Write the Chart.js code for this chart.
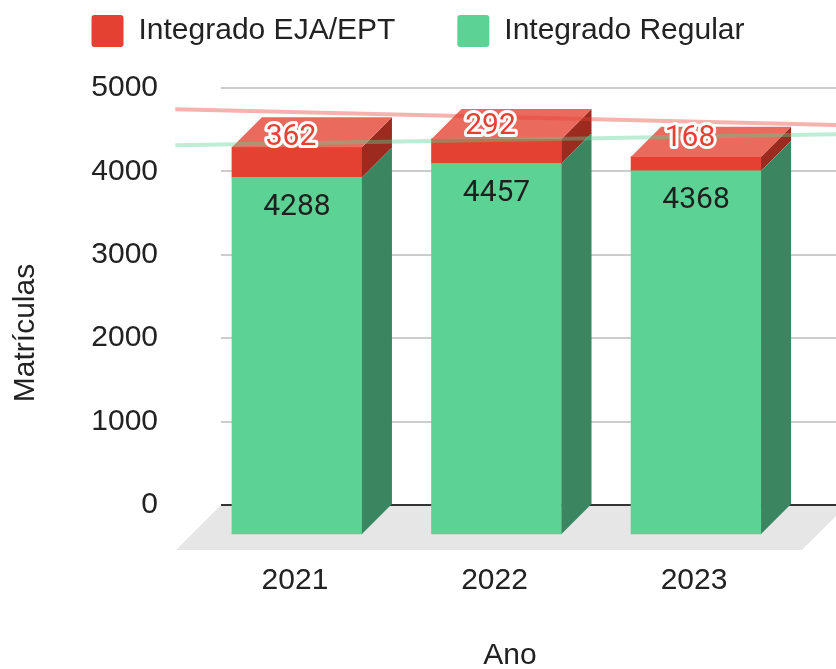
<!DOCTYPE html>
<html>
<head>
<meta charset="utf-8">
<script src="https://cdn.jsdelivr.net/npm/chart.js@4"></script>
<style>
  html, body { margin: 0; padding: 0; background: #fff; overflow: hidden; }
  #wrap { width: 836px; height: 669px; }
</style>
</head>
<body>
<div id="wrap"><canvas id="matriculasChart"></canvas></div>
<script>
const years = ["2021", "2022", "2023"];
const regular = [4288, 4457, 4368];
const ejaEpt = [362, 292, 168];
const yTicks = [0, 1000, 2000, 3000, 4000, 5000];

// trend lines, values at both ends
const trendYears = [2020.24, 2023.56];
const trendEja = [4745, 4556];
const trendRegular = [4315, 4445];

const xTitle = "Ano";
const yTitle = "Matrículas";

const DEPTH = 30; // 3d offset of the boxes
const FLOOR = 45;
const axisFont = "'Liberation Sans', Arial, sans-serif";

Chart.defaults.font.family = axisFont;
Chart.defaults.color = "#222";

function poly(ctx, pts) {
  ctx.beginPath();
  ctx.moveTo(pts[0][0], pts[0][1]);
  for (let i = 1; i < pts.length; i++) ctx.lineTo(pts[i][0], pts[i][1]);
  ctx.closePath();
  ctx.fill();
}

const box3d = {
  id: "box3d",
  beforeDraw(chart) {
    const { ctx, chartArea: a } = chart;
    ctx.save();
    ctx.fillStyle = "#e6e6e6";
    poly(ctx, [
      [a.left, a.bottom],
      [a.right + 11, a.bottom],
      [a.right + 11 - FLOOR, a.bottom + FLOOR],
      [a.left - FLOOR, a.bottom + FLOOR],
    ]);
    ctx.restore();
  },
  beforeDatasetDraw(chart, args) {
    if (args.meta.type !== "bar") return;
    chart.ctx.save();
    chart.ctx.translate(-DEPTH, DEPTH);
  },
  afterDatasetDraw(chart, args) {
    if (args.meta.type !== "bar") return;
    const ctx = chart.ctx;
    ctx.restore();
    const ds = chart.data.datasets[args.index];
    ctx.save();
    args.meta.data.forEach((bar) => {
      const { x, y, base, width } = bar.getProps(["x", "y", "base", "width"], true);
      const xl = x - width / 2;
      const xr = x + width / 2;
      ctx.fillStyle = ds.sideColor;
      poly(ctx, [[xr - DEPTH, y + DEPTH], [xr, y], [xr, base], [xr - DEPTH, base + DEPTH]]);
      if (ds.topColor) {
        ctx.fillStyle = ds.topColor;
        poly(ctx, [[xl - DEPTH, y + DEPTH], [xl, y], [xr, y], [xr - DEPTH, y + DEPTH]]);
      }
    });
    ctx.restore();
  },
  afterDatasetsDraw(chart) {
    const ctx = chart.ctx;
    ctx.save();
    ctx.font = "30px Roboto";
    ctx.textAlign = "center";
    ctx.textBaseline = "middle";
    chart.getDatasetMeta(0).data.forEach((bar, i) => {
      ctx.fillStyle = "#1f1f1f";
      ctx.fillText(String(regular[i]), bar.x - DEPTH, bar.y + DEPTH + 30);
    });
    chart.getDatasetMeta(1).data.forEach((bar, i) => {
      const cx = bar.x - DEPTH - 6;
      const cy = (bar.y + bar.base) / 2 + 5;
      ctx.lineWidth = 6;
      ctx.lineJoin = "round";
      ctx.strokeStyle = "#fff";
      ctx.strokeText(String(ejaEpt[i]), cx, cy);
      ctx.fillStyle = "#e54133";
      ctx.fillText(String(ejaEpt[i]), cx, cy);
    });
    ctx.restore();
  },
  afterDraw(chart) {
    const ctx = chart.ctx;
    ctx.save();
    ctx.font = "30px " + axisFont;
    ctx.fillStyle = "#222";
    ctx.textAlign = "center";
    ctx.textBaseline = "middle";
    ctx.fillText(xTitle, 510, 656);
    ctx.translate(26, 333);
    ctx.rotate(-Math.PI / 2);
    ctx.fillText(yTitle, 0, 0);
    ctx.restore();
  },
};

new Chart(document.getElementById("matriculasChart"), {
  type: "bar",
  data: {
    labels: years,
    datasets: [
      {
        label: "Integrado Regular",
        data: regular,
        backgroundColor: "#5cd295",
        sideColor: "#3b8660",
      },
      {
        label: "Integrado EJA/EPT",
        data: ejaEpt,
        backgroundColor: "#e54133",
        sideColor: "#9c2a1f",
        topColor: "#ea6a5d",
      },
      {
        type: "line",
        label: "Tendência EJA/EPT",
        data: trendYears.map((x, i) => ({ x: x, y: trendEja[i] })),
        borderColor: "rgba(229, 65, 51, 0.4)",
        borderWidth: 4,
        pointRadius: 0,
        stack: "trendEja",
        order: -1,
        clip: false,
      },
      {
        type: "line",
        label: "Tendência Regular",
        data: trendYears.map((x, i) => ({ x: x, y: trendRegular[i] })),
        borderColor: "rgba(92, 210, 149, 0.4)",
        borderWidth: 4,
        pointRadius: 0,
        stack: "trendRegular",
        order: -1,
        clip: false,
      },
    ],
  },
  options: {
    responsive: true,
    maintainAspectRatio: false,
    animation: false,
    events: [],
    layout: { padding: { top: -47, left: 0, right: 0, bottom: 0 } },
    datasets: {
      bar: { barThickness: 130, borderWidth: 0, clip: false },
    },
    scales: {
      x: {
        type: "linear",
        offset: false,
        stacked: true,
        min: 2020.469,
        max: 2023.551,
        grid: { display: false },
        border: { display: false },
        afterBuildTicks: (s) => {
          s.ticks = years.map((y) => ({ value: Number(y) }));
        },
        ticks: {
          callback: (v) => String(v),
          padding: 50,
          labelOffset: -DEPTH - 2,
          maxRotation: 0,
          autoSkip: false,
          font: { size: 30 },
        },
        afterFit: (s) => {
          s.height = 164;
          s.paddingLeft = 0;
          s.paddingRight = 0;
        },
      },
      y: {
        stacked: true,
        min: yTicks[0],
        max: yTicks[yTicks.length - 1],
        afterBuildTicks: (s) => {
          s.ticks = yTicks.map((v) => ({ value: v }));
        },
        grid: {
          color: (c) => (c.tick && c.tick.value === 0 ? "#333" : "#cccccc"),
          lineWidth: 2,
          drawTicks: false,
        },
        border: { display: false },
        ticks: { padding: 63, font: { size: 30 }, callback: (v) => String(v) },
        afterFit: (s) => {
          s.width = 221;
          s.paddingTop = 0;
          s.paddingBottom = 0;
        },
      },
    },
    plugins: {
      legend: {
        position: "top",
        reverse: true,
        labels: {
          filter: (item) => item.datasetIndex < 2,
          boxWidth: 32,
          boxHeight: 32,
          padding: 62,
          font: { size: 30 },
          useBorderRadius: true,
          borderRadius: 3,
        },
      },
      // empty spacer between the legend and the plot
      subtitle: {
        display: true,
        text: "",
        weight: 500,
        font: { size: 1, lineHeight: 1 },
        padding: { top: 30, bottom: 0 },
      },
      tooltip: { enabled: false },
    },
  },
  plugins: [box3d],
});
</script>
</body>
</html>
